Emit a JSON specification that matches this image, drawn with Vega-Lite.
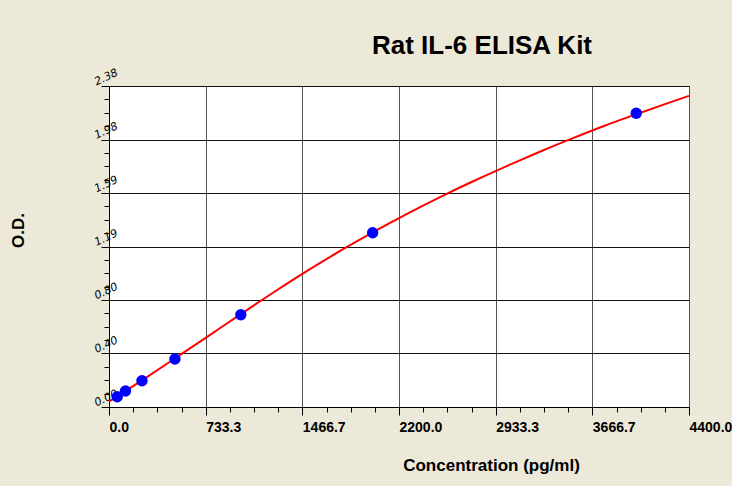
{
  "$schema": "https://vega.github.io/schema/vega-lite/v6.json",
  "autosize": {"type": "none"},
  "width": 580,
  "height": 321,
  "padding": {"left": 109, "top": 86, "right": 43, "bottom": 79},
  "background": "#ECE9D8",
  "view": {"fill": "#FFFFFF", "stroke": "#666666", "strokeWidth": 1},
  "title": {
    "text": "Rat IL-6 ELISA Kit",
    "font": "Liberation Sans",
    "fontSize": 26,
    "fontWeight": "bold",
    "color": "#000000",
    "anchor": "middle",
    "frame": "group",
    "baseline": "alphabetic",
    "dx": 83,
    "dy": 24,
    "offset": 10
  },
  "datasets": {
    "points": [
      {"conc": 62.5, "od": 0.076},
      {"conc": 125, "od": 0.119},
      {"conc": 250, "od": 0.195},
      {"conc": 500, "od": 0.356},
      {"conc": 1000, "od": 0.684},
      {"conc": 2000, "od": 1.292},
      {"conc": 4000, "od": 2.178}
    ],
    "curve": [
      {"conc": 0, "od": 0.04},
      {"conc": 62.5, "od": 0.0795},
      {"conc": 125, "od": 0.119},
      {"conc": 250, "od": 0.198},
      {"conc": 500, "od": 0.36},
      {"conc": 750, "od": 0.524},
      {"conc": 1000, "od": 0.689},
      {"conc": 1250, "od": 0.851},
      {"conc": 1500, "od": 1.007},
      {"conc": 1750, "od": 1.155},
      {"conc": 2000, "od": 1.295},
      {"conc": 2250, "od": 1.427},
      {"conc": 2500, "od": 1.551},
      {"conc": 2750, "od": 1.668},
      {"conc": 3000, "od": 1.779},
      {"conc": 3250, "od": 1.885},
      {"conc": 3500, "od": 1.986},
      {"conc": 3750, "od": 2.082},
      {"conc": 4000, "od": 2.171},
      {"conc": 4250, "od": 2.257},
      {"conc": 4400, "od": 2.307}
    ]
  },
  "encoding": {
    "x": {
      "field": "conc",
      "type": "quantitative",
      "scale": {"domain": [0, 4400], "nice": false, "zero": false},
      "axis": {
        "title": "Concentration (pg/ml)",
        "titleFont": "Liberation Sans",
        "titleFontSize": 17,
        "titleFontWeight": "bold",
        "titleColor": "#000000",
        "titleX": 382,
        "titleY": 50,
        "titleAlign": "center",
        "titleBaseline": "top",
        "values": [0, 183.3333, 366.6667, 550, 733.3333, 916.6667, 1100, 1283.3333, 1466.6667, 1650, 1833.3333, 2016.6667, 2200, 2383.3333, 2566.6667, 2750, 2933.3333, 3116.6667, 3300, 3483.3333, 3666.6667, 3850, 4033.3333, 4216.6667, 4400],
        "labelExpr": "abs(datum.value/733.33333 - round(datum.value/733.33333)) < 0.01 ? format(datum.value, '.1f') : ''",
        "labelFont": "Liberation Sans",
        "labelFontSize": 14,
        "labelFontWeight": "bold",
        "labelColor": "#000000",
        "labelAlign": "left",
        "labelBaseline": "top",
        "labelPadding": 5,
        "labelOverlap": false,
        "labelFlush": false,
        "labelBound": false,
        "domainColor": "#000000",
        "tickColor": "#000000",
        "tickSize": {"condition": {"test": "abs(datum.value/733.33333 - round(datum.value/733.33333)) < 0.01", "value": 8}, "value": 5},
        "grid": true,
        "gridColor": "#555555",
        "gridOpacity": {"condition": {"test": "abs(datum.value/733.33333 - round(datum.value/733.33333)) < 0.01", "value": 1}, "value": 0}
      }
    },
    "y": {
      "field": "od",
      "type": "quantitative",
      "scale": {"domain": [0, 2.38], "nice": false, "zero": false},
      "axis": {
        "title": "O.D.",
        "titleFont": "Liberation Sans",
        "titleFontSize": 17,
        "titleFontWeight": "bold",
        "titleColor": "#000000",
        "titleAngle": -90,
        "titleAlign": "center",
        "titleBaseline": "middle",
        "titleX": -91,
        "titleY": 144,
        "values": [0, 0.0991667, 0.1983333, 0.2975, 0.3966667, 0.4958333, 0.595, 0.6941667, 0.7933333, 0.8925, 0.9916667, 1.0908333, 1.19, 1.2891667, 1.3883333, 1.4875, 1.5866667, 1.6858333, 1.785, 1.8841667, 1.9833333, 2.0825, 2.1816667, 2.2808333, 2.38],
        "labelExpr": "abs(datum.value/0.3966667 - round(datum.value/0.3966667)) < 0.01 ? (abs(datum.value - 0.7933333) < 0.001 ? '0.80' : format(datum.value, '.2f')) : ''",
        "labelFont": "DejaVu Sans",
        "labelFontSize": 11,
        "labelFontStyle": "italic",
        "labelColor": "#000000",
        "labelAngle": -25,
        "labelAlign": "left",
        "labelBaseline": "alphabetic",
        "labelPadding": 5,
        "labelOffset": -1,
        "labelOverlap": false,
        "labelFlush": false,
        "labelBound": false,
        "domainColor": "#000000",
        "tickColor": "#000000",
        "tickSize": {"condition": {"test": "abs(datum.value/0.3966667 - round(datum.value/0.3966667)) < 0.01", "value": 8}, "value": 5},
        "grid": true,
        "gridColor": "#111111",
        "gridOpacity": {"condition": {"test": "abs(datum.value/0.3966667 - round(datum.value/0.3966667)) < 0.01", "value": 1}, "value": 0}
      }
    }
  },
  "layer": [
    {
      "data": {"name": "curve"},
      "mark": {"type": "line", "color": "#FF0000", "strokeWidth": 2, "interpolate": "monotone"}
    },
    {
      "data": {"name": "points"},
      "mark": {"type": "circle", "color": "#0000FF", "opacity": 1, "size": 130}
    }
  ]
}
